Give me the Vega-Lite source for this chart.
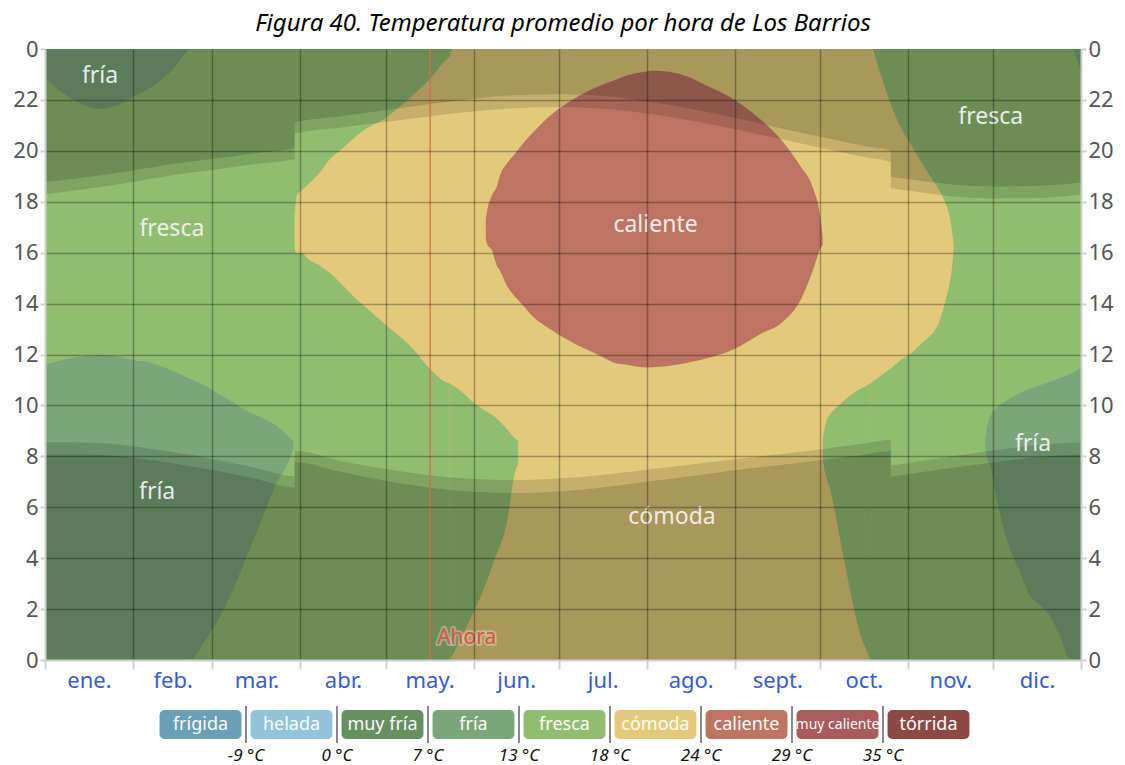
{
"$schema": "https://vega.github.io/schema/vega-lite/v6.json",
"background": "white",
"padding": {"left": 5, "top": 12, "right": 5, "bottom": 2},
"title": {"text": "Figura 40. Temperatura promedio por hora de Los Barrios", "font": "Noto Sans", "fontSize": 24, "fontStyle": "italic", "fontWeight": "normal", "color": "#000000", "anchor": "middle", "offset": 2},
"config": {"view": {"stroke": null}},
"spacing": 15,
"datasets": {
"regions": [
{"id":"base","cat":"fresca","d":0,"lo":0,"hi":24},
{"id":"base","cat":"fresca","d":365,"lo":0,"hi":24},
{"id":"comoda","cat":"cómoda","d":87.9,"lo":16.3,"hi":17.4},
{"id":"comoda","cat":"cómoda","d":88.3,"lo":16.0,"hi":17.9},
{"id":"comoda","cat":"cómoda","d":88.7,"lo":16.0,"hi":18.24},
{"id":"comoda","cat":"cómoda","d":90.5,"lo":16.0,"hi":18.45},
{"id":"comoda","cat":"cómoda","d":92.2,"lo":15.8,"hi":18.63},
{"id":"comoda","cat":"cómoda","d":96.9,"lo":15.49,"hi":19.16},
{"id":"comoda","cat":"cómoda","d":100.4,"lo":15.2,"hi":19.68},
{"id":"comoda","cat":"cómoda","d":103.9,"lo":14.83,"hi":20.0},
{"id":"comoda","cat":"cómoda","d":108.6,"lo":14.3,"hi":20.47},
{"id":"comoda","cat":"cómoda","d":111.0,"lo":14.05,"hi":20.7},
{"id":"comoda","cat":"cómoda","d":120.4,"lo":13.13,"hi":21.32},
{"id":"comoda","cat":"cómoda","d":129.8,"lo":12.21,"hi":22.2},
{"id":"comoda","cat":"cómoda","d":135.7,"lo":11.43,"hi":22.83},
{"id":"comoda","cat":"cómoda","d":141.5,"lo":10.9,"hi":23.6},
{"id":"comoda","cat":"cómoda","d":142.6,"lo":10.86,"hi":23.7},
{"id":"comoda","cat":"cómoda","d":142.7,"lo":0,"hi":23.75},
{"id":"comoda","cat":"cómoda","d":143.9,"lo":0,"hi":24},
{"id":"comoda","cat":"cómoda","d":290.7,"lo":0,"hi":24},
{"id":"comoda","cat":"cómoda","d":290.8,"lo":10.87,"hi":24},
{"id":"comoda","cat":"cómoda","d":291.3,"lo":10.91,"hi":24},
{"id":"comoda","cat":"cómoda","d":294.2,"lo":11.15,"hi":23.09},
{"id":"comoda","cat":"cómoda","d":297.7,"lo":11.43,"hi":21.91},
{"id":"comoda","cat":"cómoda","d":302.4,"lo":11.85,"hi":20.73},
{"id":"comoda","cat":"cómoda","d":304.8,"lo":12.02,"hi":20.3},
{"id":"comoda","cat":"cómoda","d":309.5,"lo":12.5,"hi":19.42},
{"id":"comoda","cat":"cómoda","d":310.7,"lo":12.61,"hi":19.2},
{"id":"comoda","cat":"cómoda","d":315.4,"lo":13.39,"hi":18.37},
{"id":"comoda","cat":"cómoda","d":317.7,"lo":14.31,"hi":17.8},
{"id":"comoda","cat":"cómoda","d":318.9,"lo":14.9,"hi":17.32},
{"id":"comoda","cat":"cómoda","d":319.5,"lo":15.36,"hi":16.9},
{"id":"comoda","cat":"cómoda","d":320.1,"lo":16.1,"hi":16.3},
{"id":"notchL","cat":"fresca","d":142.7,"lo":0,"hi":10.85},
{"id":"notchL","cat":"fresca","d":146.2,"lo":0.8,"hi":10.6},
{"id":"notchL","cat":"fresca","d":150.9,"lo":1.86,"hi":10.12},
{"id":"notchL","cat":"fresca","d":156.8,"lo":3.44,"hi":9.67},
{"id":"notchL","cat":"fresca","d":158.0,"lo":3.83,"hi":9.59},
{"id":"notchL","cat":"fresca","d":162.7,"lo":5.4,"hi":9.07},
{"id":"notchL","cat":"fresca","d":165.6,"lo":7.37,"hi":8.7},
{"id":"notchL","cat":"fresca","d":166.7,"lo":7.7,"hi":8.6},
{"id":"notchR","cat":"fresca","d":274.0,"lo":7.9,"hi":8.7},
{"id":"notchR","cat":"fresca","d":274.4,"lo":7.6,"hi":8.95},
{"id":"notchR","cat":"fresca","d":275.5,"lo":7.1,"hi":9.46},
{"id":"notchR","cat":"fresca","d":276.6,"lo":6.71,"hi":9.65},
{"id":"notchR","cat":"fresca","d":280.1,"lo":4.74,"hi":10.05},
{"id":"notchR","cat":"fresca","d":283.6,"lo":2.78,"hi":10.38},
{"id":"notchR","cat":"fresca","d":287.1,"lo":1.05,"hi":10.64},
{"id":"notchR","cat":"fresca","d":289.5,"lo":0.35,"hi":10.77},
{"id":"notchR","cat":"fresca","d":290.8,"lo":0,"hi":10.87},
{"id":"friaL","cat":"fría","d":0,"lo":0,"hi":11.62},
{"id":"friaL","cat":"fría","d":4,"lo":0,"hi":11.72},
{"id":"friaL","cat":"fría","d":8,"lo":0,"hi":11.83},
{"id":"friaL","cat":"fría","d":14,"lo":0,"hi":11.93},
{"id":"friaL","cat":"fría","d":20,"lo":0,"hi":11.98},
{"id":"friaL","cat":"fría","d":26,"lo":0,"hi":11.92},
{"id":"friaL","cat":"fría","d":31,"lo":0,"hi":11.78},
{"id":"friaL","cat":"fría","d":37,"lo":0,"hi":11.69},
{"id":"friaL","cat":"fría","d":43,"lo":0,"hi":11.45},
{"id":"friaL","cat":"fría","d":50,"lo":0,"hi":11.1},
{"id":"friaL","cat":"fría","d":52,"lo":0.05,"hi":11.0},
{"id":"friaL","cat":"fría","d":56,"lo":0.7,"hi":10.8},
{"id":"friaL","cat":"fría","d":60.5,"lo":1.47,"hi":10.5},
{"id":"friaL","cat":"fría","d":66.3,"lo":2.78,"hi":10.12},
{"id":"friaL","cat":"fría","d":71.1,"lo":4.09,"hi":9.78},
{"id":"friaL","cat":"fría","d":76.9,"lo":5.66,"hi":9.5},
{"id":"friaL","cat":"fría","d":81.6,"lo":6.97,"hi":9.2},
{"id":"friaL","cat":"fría","d":85.2,"lo":7.63,"hi":8.85},
{"id":"friaL","cat":"fría","d":87.5,"lo":8.3,"hi":8.6},
{"id":"friaLT","cat":"fría","d":0,"lo":22.89,"hi":24},
{"id":"friaLT","cat":"fría","d":2.9,"lo":22.56,"hi":24},
{"id":"friaLT","cat":"fría","d":7.6,"lo":22.17,"hi":24},
{"id":"friaLT","cat":"fría","d":13.5,"lo":21.8,"hi":24},
{"id":"friaLT","cat":"fría","d":19.4,"lo":21.65,"hi":24},
{"id":"friaLT","cat":"fría","d":25.3,"lo":21.78,"hi":24},
{"id":"friaLT","cat":"fría","d":31.1,"lo":22.11,"hi":24},
{"id":"friaLT","cat":"fría","d":38.2,"lo":22.56,"hi":24},
{"id":"friaLT","cat":"fría","d":45.2,"lo":23.22,"hi":24},
{"id":"friaLT","cat":"fría","d":50.5,"lo":24,"hi":24},
{"id":"friaR","cat":"fría","d":331.2,"lo":8.4,"hi":8.6},
{"id":"friaR","cat":"fría","d":332,"lo":7.9,"hi":9.2},
{"id":"friaR","cat":"fría","d":333,"lo":7.63,"hi":9.59},
{"id":"friaR","cat":"fría","d":335.3,"lo":6.32,"hi":9.9},
{"id":"friaR","cat":"fría","d":338.9,"lo":4.74,"hi":10.2},
{"id":"friaR","cat":"fría","d":343.5,"lo":3.44,"hi":10.49},
{"id":"friaR","cat":"fría","d":347.1,"lo":2.52,"hi":10.66},
{"id":"friaR","cat":"fría","d":350.5,"lo":2.14,"hi":10.79},
{"id":"friaR","cat":"fría","d":354.1,"lo":1.73,"hi":10.93},
{"id":"friaR","cat":"fría","d":357.6,"lo":0.94,"hi":11.08},
{"id":"friaR","cat":"fría","d":361.2,"lo":0.03,"hi":11.23},
{"id":"friaR","cat":"fría","d":365,"lo":0,"hi":11.49},
{"id":"friaRT","cat":"fría","d":362.3,"lo":24,"hi":24},
{"id":"friaRT","cat":"fría","d":363.5,"lo":23.6,"hi":24},
{"id":"friaRT","cat":"fría","d":365,"lo":23.1,"hi":24},
{"id":"cal","cat":"caliente","d":155.3,"lo":16.6,"hi":17.3},
{"id":"cal","cat":"caliente","d":155.7,"lo":16.35,"hi":17.6},
{"id":"cal","cat":"caliente","d":157.4,"lo":16.1,"hi":18.24},
{"id":"cal","cat":"caliente","d":159.2,"lo":15.49,"hi":18.6},
{"id":"cal","cat":"caliente","d":160.3,"lo":15.3,"hi":19.03},
{"id":"cal","cat":"caliente","d":162.7,"lo":14.7,"hi":19.5},
{"id":"cal","cat":"caliente","d":165.0,"lo":14.35,"hi":19.81},
{"id":"cal","cat":"caliente","d":168.5,"lo":13.92,"hi":20.3},
{"id":"cal","cat":"caliente","d":170.9,"lo":13.6,"hi":20.6},
{"id":"cal","cat":"caliente","d":177.9,"lo":13.0,"hi":21.38},
{"id":"cal","cat":"caliente","d":186.2,"lo":12.45,"hi":22.04},
{"id":"cal","cat":"caliente","d":195.6,"lo":11.95,"hi":22.56},
{"id":"cal","cat":"caliente","d":200.2,"lo":11.69,"hi":22.75},
{"id":"cal","cat":"caliente","d":205.0,"lo":11.6,"hi":22.96},
{"id":"cal","cat":"caliente","d":212.0,"lo":11.49,"hi":23.12},
{"id":"cal","cat":"caliente","d":214.3,"lo":11.5,"hi":23.15},
{"id":"cal","cat":"caliente","d":223.7,"lo":11.62,"hi":23.02},
{"id":"cal","cat":"caliente","d":233.2,"lo":11.85,"hi":22.56},
{"id":"cal","cat":"caliente","d":242.5,"lo":12.2,"hi":22.04},
{"id":"cal","cat":"caliente","d":251.9,"lo":12.8,"hi":21.25},
{"id":"cal","cat":"caliente","d":260.1,"lo":13.3,"hi":20.34},
{"id":"cal","cat":"caliente","d":266.0,"lo":14.1,"hi":19.42},
{"id":"cal","cat":"caliente","d":270.7,"lo":15.36,"hi":18.5},
{"id":"cal","cat":"caliente","d":273.1,"lo":16.14,"hi":17.45},
{"id":"cal","cat":"caliente","d":274.0,"lo":16.3,"hi":16.6}
],
"night": [
{"d":0,"cd":8.07,"sr":8.55,"ss":18.29,"ck":18.77},
{"d":14.5,"cd":8.07,"sr":8.54,"ss":18.5,"ck":18.96},
{"d":31.5,"cd":7.94,"sr":8.39,"ss":18.79,"ck":19.24},
{"d":45.5,"cd":7.72,"sr":8.16,"ss":19.05,"ck":19.49},
{"d":59.5,"cd":7.46,"sr":7.89,"ss":19.26,"ck":19.69},
{"d":73.5,"cd":7.14,"sr":7.56,"ss":19.47,"ck":19.9},
{"d":88.0,"cd":6.78,"sr":7.21,"ss":19.68,"ck":20.11},
{"d":88.01,"cd":7.78,"sr":8.21,"ss":20.68,"ck":21.11},
{"d":104.5,"cd":7.38,"sr":7.82,"ss":20.92,"ck":21.36},
{"d":120.5,"cd":7.03,"sr":7.49,"ss":21.14,"ck":21.6},
{"d":134.5,"cd":6.79,"sr":7.27,"ss":21.34,"ck":21.82},
{"d":151.5,"cd":6.61,"sr":7.11,"ss":21.55,"ck":22.05},
{"d":165.5,"cd":6.56,"sr":7.07,"ss":21.67,"ck":22.18},
{"d":181.5,"cd":6.63,"sr":7.14,"ss":21.72,"ck":22.22},
{"d":195.5,"cd":6.77,"sr":7.26,"ss":21.66,"ck":22.16},
{"d":212.5,"cd":7.01,"sr":7.48,"ss":21.46,"ck":21.93},
{"d":226.5,"cd":7.21,"sr":7.67,"ss":21.21,"ck":21.67},
{"d":243.5,"cd":7.46,"sr":7.89,"ss":20.84,"ck":21.28},
{"d":257.5,"cd":7.64,"sr":8.07,"ss":20.5,"ck":20.93},
{"d":273.5,"cd":7.86,"sr":8.28,"ss":20.11,"ck":20.54},
{"d":287.5,"cd":8.05,"sr":8.48,"ss":19.78,"ck":20.21},
{"d":298.0,"cd":8.21,"sr":8.65,"ss":19.55,"ck":19.99},
{"d":298.01,"cd":7.21,"sr":7.65,"ss":18.55,"ck":18.99},
{"d":304.5,"cd":7.31,"sr":7.75,"ss":18.43,"ck":18.88},
{"d":318.5,"cd":7.53,"sr":7.98,"ss":18.23,"ck":18.69},
{"d":334.5,"cd":7.77,"sr":8.24,"ss":18.13,"ck":18.6},
{"d":348.5,"cd":7.96,"sr":8.43,"ss":18.14,"ck":18.62},
{"d":365,"cd":8.07,"sr":8.55,"ss":18.28,"ck":18.76}
],
"labels": [
{"d":19.4,"h":22.92,"t":"fría"},
{"d":44.7,"h":16.92,"t":"fresca"},
{"d":215.1,"h":17.09,"t":"caliente"},
{"d":333.2,"h":21.33,"t":"fresca"},
{"d":348.1,"h":8.48,"t":"fría"},
{"d":39.5,"h":6.59,"t":"fría"},
{"d":220.9,"h":5.63,"t":"cómoda"}
],
"now": [{"d":135.7,"h":0.85,"t":"Ahora"}],
"legendBoxes": [
{"cat":"frígida","r":"box"},{"cat":"helada","r":"box"},{"cat":"muy fría","r":"box"},{"cat":"fría","r":"box"},{"cat":"fresca","r":"box"},{"cat":"cómoda","r":"box"},{"cat":"caliente","r":"box"},{"cat":"muy caliente","r":"box"},{"cat":"tórrida","r":"box"}
],
"legendTemps": [
{"cat":"helada","r":"temp","label":"-9 °C"},{"cat":"muy fría","r":"temp","label":"0 °C"},{"cat":"fría","r":"temp","label":"7 °C"},{"cat":"fresca","r":"temp","label":"13 °C"},{"cat":"cómoda","r":"temp","label":"18 °C"},{"cat":"caliente","r":"temp","label":"24 °C"},{"cat":"muy caliente","r":"temp","label":"29 °C"},{"cat":"tórrida","r":"temp","label":"35 °C"}
]
},
"vconcat": [
{
"width": 1036, "height": 611,
"resolve": {"axis": {"y": "independent"}},
"layer": [
{"data": {"name": "regions"}, "transform": [{"filter": "datum.id == 'base'"}],
 "mark": {"type": "area", "opacity": 1},
 "encoding": {
  "x": {"field": "d", "type": "quantitative", "title": null, "scale": {"domain": [0, 365], "nice": false, "zero": false},
   "axis": {"values": [0,15.5,31,45,59,74.5,90,105,120,135.5,151,166,181,196.5,212,227.5,243,258,273,288.5,304,319,334,349.5,365],
    "labelExpr": "['','ene.','','feb.','','mar.','','abr.','','may.','','jun.','','jul.','','ago.','','sept.','','oct.','','nov.','','dic.',''][indexof([0,15.5,31,45,59,74.5,90,105,120,135.5,151,166,181,196.5,212,227.5,243,258,273,288.5,304,319,334,349.5,365], datum.value)]",
    "grid": true, "gridColor": "#000000", "gridWidth": 1.5,
    "gridOpacity": {"condition": {"test": "indexof([31,59,90,120,151,181,212,243,273,304,334], datum.value) >= 0", "value": 0.3}, "value": 0},
    "tickOpacity": {"condition": {"test": "indexof([0,31,59,90,120,151,181,212,243,273,304,334,365], datum.value) >= 0", "value": 1}, "value": 0},
    "tickColor": "#d0d0d0", "tickSize": 9, "tickWidth": 2,
    "domain": true, "domainColor": "#d0d0d0", "domainWidth": 2,
    "labelColor": "#3a5bc8", "labelFont": "Noto Sans", "labelFontSize": 22, "labelPadding": 1,
    "labelFlush": false, "labelOverlap": false, "labelBound": false, "zindex": 1, "title": null}},
  "y": {"field": "lo", "type": "quantitative", "title": null, "scale": {"domain": [0, 24], "nice": false, "zero": false},
   "axis": {"orient": "left", "values": [0,2,4,6,8,10,12,14,16,18,20,22,24],
    "labelExpr": "datum.value == 24 ? '0' : datum.label",
    "grid": true, "gridColor": "#000000", "gridWidth": 1.5,
    "gridOpacity": {"condition": {"test": "datum.value > 0 && datum.value < 24", "value": 0.3}, "value": 0},
    "tickColor": "#d0d0d0", "tickSize": 5, "tickWidth": 2,
    "domain": true, "domainColor": "#d0d0d0", "domainWidth": 2,
    "labelColor": "#555555", "labelFont": "Noto Sans", "labelFontSize": 22, "labelPadding": 2,
    "minExtent": 40, "maxExtent": 40, "labelFlush": false, "labelOverlap": false, "zindex": 1, "title": null}},
  "y2": {"field": "hi"},
  "color": {"field": "cat", "type": "nominal", "legend": null, "scale": {"domain": ["frígida","helada","muy fría","fría","fresca","cómoda","caliente","muy caliente","tórrida"], "range": ["#6a9fb5","#92c5d9","#66905f","#7aa67a","#91bd71","#e3ca7b","#bd7462","#a85c5b","#8c4a45"]}}
 }},
{"data": {"name": "regions"}, "transform": [{"filter": "datum.id == 'comoda'"}],
 "mark": {"type": "area", "opacity": 1, "interpolate": "monotone"},
 "encoding": {
  "x": {"field": "d", "type": "quantitative", "title": null},
  "y": {"field": "lo", "type": "quantitative", "title": null, "axis": null},
  "y2": {"field": "hi"},
  "color": {"field": "cat", "type": "nominal", "legend": null}
 }},
{"data": {"name": "regions"}, "transform": [{"filter": "datum.id == 'notchL' || datum.id == 'notchR'"}],
 "mark": {"type": "area", "opacity": 1, "interpolate": "monotone"},
 "encoding": {
  "x": {"field": "d", "type": "quantitative", "title": null},
  "y": {"field": "lo", "type": "quantitative", "title": null, "axis": null},
  "y2": {"field": "hi"},
  "detail": {"field": "id"},
  "color": {"field": "cat", "type": "nominal", "legend": null}
 }},
{"data": {"name": "regions"}, "transform": [{"filter": "datum.cat == 'fría'"}],
 "mark": {"type": "area", "opacity": 1, "interpolate": "monotone"},
 "encoding": {
  "x": {"field": "d", "type": "quantitative", "title": null},
  "y": {"field": "lo", "type": "quantitative", "title": null, "axis": null},
  "y2": {"field": "hi"},
  "detail": {"field": "id"},
  "color": {"field": "cat", "type": "nominal", "legend": null}
 }},
{"data": {"name": "regions"}, "transform": [{"filter": "datum.id == 'cal'"}],
 "mark": {"type": "area", "opacity": 1, "interpolate": "monotone"},
 "encoding": {
  "x": {"field": "d", "type": "quantitative", "title": null},
  "y": {"field": "lo", "type": "quantitative", "title": null, "axis": null},
  "y2": {"field": "hi"},
  "color": {"field": "cat", "type": "nominal", "legend": null}
 }},
{"data": {"name": "night"},
 "mark": {"type": "area", "color": "#000000", "opacity": 0.25, "interpolate": "monotone"},
 "encoding": {
  "x": {"field": "d", "type": "quantitative", "title": null},
  "y": {"field": "cd", "type": "quantitative", "title": null, "axis": null},
  "y2": {"datum": 0}
 }},
{"data": {"name": "night"},
 "mark": {"type": "area", "color": "#000000", "opacity": 0.13, "interpolate": "monotone"},
 "encoding": {
  "x": {"field": "d", "type": "quantitative", "title": null},
  "y": {"field": "sr", "type": "quantitative", "title": null, "axis": null},
  "y2": {"field": "cd"}
 }},
{"data": {"name": "night"},
 "mark": {"type": "area", "color": "#000000", "opacity": 0.13, "interpolate": "monotone"},
 "encoding": {
  "x": {"field": "d", "type": "quantitative", "title": null},
  "y": {"field": "ss", "type": "quantitative", "title": null, "axis": null},
  "y2": {"field": "ck"}
 }},
{"data": {"name": "night"},
 "mark": {"type": "area", "color": "#000000", "opacity": 0.25, "interpolate": "monotone"},
 "encoding": {
  "x": {"field": "d", "type": "quantitative", "title": null},
  "y": {"field": "ck", "type": "quantitative", "title": null, "axis": null},
  "y2": {"datum": 24}
 }},
{"data": {"name": "labels"},
 "mark": {"type": "text", "font": "Noto Sans", "fontSize": 23, "color": "#f4f4f4", "opacity": 0.92},
 "encoding": {
  "x": {"field": "d", "type": "quantitative", "title": null},
  "y": {"field": "h", "type": "quantitative", "title": null,
   "axis": {"orient": "right", "values": [0,2,4,6,8,10,12,14,16,18,20,22,24],
    "labelExpr": "datum.value == 24 ? '0' : datum.label",
    "grid": false, "tickColor": "#d0d0d0", "tickSize": 5, "tickWidth": 2,
    "domain": true, "domainColor": "#d0d0d0", "domainWidth": 2,
    "labelColor": "#555555", "labelFont": "Noto Sans", "labelFontSize": 22, "labelPadding": 2,
    "minExtent": 40, "maxExtent": 40, "labelFlush": false, "labelOverlap": false, "zindex": 1, "title": null}},
  "text": {"field": "t"}
 }},
{"data": {"name": "now"},
 "mark": {"type": "rule", "color": "#e0674c", "strokeWidth": 1.5, "opacity": 0.85},
 "encoding": {
  "x": {"field": "d", "type": "quantitative", "title": null}
 }},
{"data": {"name": "now"},
 "mark": {"type": "text", "align": "left", "dx": 7, "font": "Noto Sans", "fontSize": 21, "color": "#d9574a", "stroke": "#eef5e0", "strokeWidth": 4, "strokeOpacity": 0.35, "strokeJoin": "round"},
 "encoding": {
  "x": {"field": "d", "type": "quantitative", "title": null},
  "y": {"field": "h", "type": "quantitative", "title": null, "axis": null},
  "text": {"field": "t"}
 }},
{"data": {"name": "now"},
 "mark": {"type": "text", "align": "left", "dx": 7, "font": "Noto Sans", "fontSize": 21, "color": "#d9574a"},
 "encoding": {
  "x": {"field": "d", "type": "quantitative", "title": null},
  "y": {"field": "h", "type": "quantitative", "title": null, "axis": null},
  "text": {"field": "t"}
 }}
]
},
{
"width": 1036, "height": 62,
"layer": [
{"data": {"name": "legendBoxes"},
 "mark": {"type": "rect", "cornerRadius": 5, "width": {"band": 0.9}, "height": {"band": 0.93}},
 "encoding": {
  "x": {"field": "cat", "type": "nominal", "sort": null, "axis": null, "title": null, "scale": {"domain": ["frígida","helada","muy fría","fría","fresca","cómoda","caliente","muy caliente","tórrida"], "range": [110, 929], "paddingInner": 0, "paddingOuter": 0}},
  "y": {"field": "r", "type": "nominal", "axis": null, "title": null, "scale": {"domain": ["box", "temp"], "paddingInner": 0, "paddingOuter": 0}},
  "color": {"field": "cat", "type": "nominal", "legend": null, "scale": {"domain": ["frígida","helada","muy fría","fría","fresca","cómoda","caliente","muy caliente","tórrida"], "range": ["#6a9fb5","#92c5d9","#66905f","#7aa67a","#91bd71","#e3ca7b","#bd7462","#a85c5b","#8c4a45"]}}
 }},
{"data": {"name": "legendBoxes"},
 "mark": {"type": "text", "font": "Noto Sans", "color": "#fafafa"},
 "encoding": {
  "x": {"field": "cat", "type": "nominal", "sort": null, "axis": null, "title": null},
  "y": {"field": "r", "type": "nominal", "axis": null, "title": null},
  "text": {"field": "cat"},
  "size": {"condition": {"test": "datum.cat == 'muy caliente'", "value": 14}, "value": 18}
 }},
{"data": {"name": "legendTemps"},
 "mark": {"type": "tick", "orient": "vertical", "color": "#555555", "thickness": 2, "size": 37},
 "encoding": {
  "x": {"field": "cat", "type": "nominal", "sort": null, "axis": null, "title": null, "bandPosition": 0},
  "y": {"datum": "box", "type": "nominal", "axis": null, "title": null}
 }},
{"data": {"name": "legendTemps"},
 "mark": {"type": "text", "font": "Noto Sans", "fontSize": 17, "fontStyle": "italic", "color": "#111111"},
 "encoding": {
  "x": {"field": "cat", "type": "nominal", "sort": null, "axis": null, "title": null, "bandPosition": 0},
  "y": {"field": "r", "type": "nominal", "axis": null, "title": null},
  "text": {"field": "label"}
 }}
]
}
]
}
